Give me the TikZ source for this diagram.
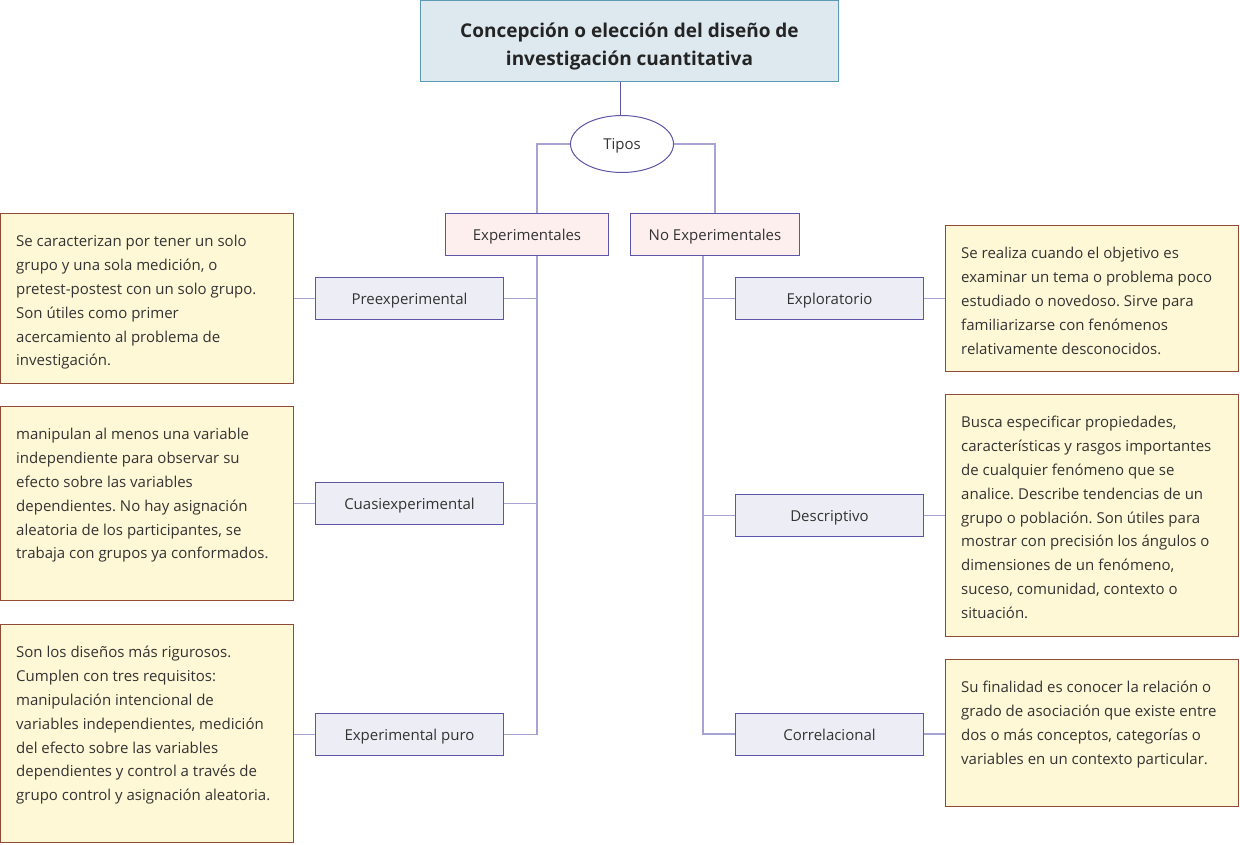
\documentclass[tikz,border=0pt]{standalone}
\usepackage{fontspec}
\setmainfont{Open Sans}
\usetikzlibrary{shapes.geometric}
\frenchspacing

\definecolor{titlefill}{HTML}{DDE8EF}
\definecolor{titleline}{HTML}{5B9BB5}
\definecolor{boxline}{HTML}{5D55A8}
\definecolor{groupfill}{HTML}{FDEFEE}
\definecolor{typefill}{HTML}{EDEDF5}
\definecolor{infofill}{HTML}{FFF8D6}
\definecolor{infoline}{HTML}{904A35}
\definecolor{linkcol}{HTML}{A7A3D3}
\definecolor{ink}{HTML}{333333}

\tikzset{
  titlebox/.style={draw=titleline, fill=titlefill, line width=1pt, minimum width=418pt, minimum height=81pt,
    align=center, text=ink!70!black, font=\fontsize{19}{28}\selectfont\bfseries},
  groupbox/.style={draw=boxline, fill=groupfill, line width=1pt, minimum height=42pt, text=ink,
    text height=14pt, text depth=2pt, font=\fontsize{15}{18}\selectfont},
  typebox/.style={draw=boxline, fill=typefill, line width=1pt, minimum width=188pt, minimum height=42pt,
    text=ink, text height=14pt, text depth=2pt, font=\fontsize{15}{18}\selectfont},
  infobox/.style={draw=infoline, fill=infofill, line width=1pt, minimum width=293pt},
  infotext/.style={anchor=north west, inner sep=0pt, align=left, text=ink, font=\fontsize{15}{23.8}\selectfont},
  link/.style={draw=linkcol, line width=1.5pt},
}

\begin{document}
\begin{tikzpicture}[x=1pt,y=-1pt]
\useasboundingbox (0,0) rectangle (1240,844);

\coordinate (leftspine)  at (537,0);
\coordinate (rightspine) at (703,0);

\node[titlebox] (diseno) at (629.5,41) {\rule{0pt}{25pt}Concepción o elección del diseño de\\investigación cuantitativa};
\node[draw=boxline, line width=1pt, fill=white, ellipse, minimum width=103pt, minimum height=57pt,
  text=ink, text height=12pt, text depth=2pt, font=\fontsize{15}{18}\selectfont] (tipos) at (622,144) {Tipos};

\node[groupbox, minimum width=163pt] (exper) at (527,234.5) {Experimentales};
\node[groupbox, minimum width=169pt] (noexp) at (715,234.5) {No Experimentales};

\node[typebox] (preexp) at (409.5,298.5) {Preexperimental};
\node[typebox] (cuasi)  at (409.5,503.5) {Cuasiexperimental};
\node[typebox] (puro)   at (409.5,734.5) {Experimental puro};

\node[typebox] (explor) at (829.5,298.5) {Exploratorio};
\node[typebox] (descr)  at (829.5,515.5) {Descriptivo};
\node[typebox] (correl) at (829.5,734)   {Correlacional};

% left descriptions
\node[infobox, minimum height=170pt] (preexpinfo) at (147,298.5) {};
\node[infotext] (preexptext) at ([shift={(16pt,-17pt)}]preexpinfo.north west)
  {\strut Se caracterizan por tener un solo\\grupo y una sola medición, o\\pretest-postest con un solo grupo.\\Son útiles como primer\\acercamiento al problema de\\investigación.};

\node[infobox, minimum height=194pt] (cuasiinfo) at (147,503.5) {};
\node[infotext] (cuasitext) at ([shift={(16pt,-17pt)}]cuasiinfo.north west)
  {\strut manipulan al menos una variable\\independiente para observar su\\efecto sobre las variables\\dependientes. No hay asignación\\aleatoria de los participantes, se\\trabaja con grupos ya conformados.};

\node[infobox, minimum height=218pt] (puroinfo) at (147,733.5) {};
\node[infotext] (purotext) at ([shift={(16pt,-17pt)}]puroinfo.north west)
  {\strut Son los diseños más rigurosos.\\Cumplen con tres requisitos:\\manipulación intencional de\\variables independientes, medición\\del efecto sobre las variables\\dependientes y control a través de\\grupo control y asignación aleatoria.};

% right descriptions
\node[infobox, minimum height=146pt] (explorinfo) at (1092,298.5) {};
\node[infotext] (explortext) at ([shift={(16pt,-17pt)}]explorinfo.north west)
  {\strut Se realiza cuando el objetivo es\\examinar un tema o problema poco\\estudiado o novedoso. Sirve para\\familiarizarse con fenómenos\\relativamente desconocidos.};

\node[infobox, minimum height=242pt] (descrinfo) at (1092,515.5) {};
\node[infotext] (descrtext) at ([shift={(16pt,-17pt)}]descrinfo.north west)
  {\strut Busca especificar propiedades,\\características y rasgos importantes\\de cualquier fenómeno que se\\analice. Describe tendencias de un\\grupo o población. Son útiles para\\mostrar con precisión los ángulos o\\dimensiones de un fenómeno,\\suceso, comunidad, contexto o\\situación.};

\node[infobox, minimum height=147pt] (correlinfo) at (1092,733) {};
\node[infotext] (correltext) at ([shift={(16pt,-17pt)}]correlinfo.north west)
  {\strut Su finalidad es conocer la relación o\\grado de asociación que existe entre\\dos o más conceptos, categorías o\\variables en un contexto particular.};

% tree
\draw[draw=boxline, line width=1pt] ([xshift=-2pt]tipos.north) -- ([xshift=-2pt]tipos.north |- diseno.south);
\draw[link] (tipos.west) -| (exper.north -| leftspine);
\draw[link] (tipos.east) -| (noexp.north);

\draw[link] (exper.south -| leftspine) |- (puro.east);
\draw[link] (preexp.east) -- (preexp.east -| leftspine);
\draw[link] (cuasi.east) -- (cuasi.east -| leftspine);

\draw[link] (noexp.south -| rightspine) |- (correl.west);
\draw[link] (explor.west) -- (explor.west -| rightspine);
\draw[link] (descr.west) -- (descr.west -| rightspine);

\draw[link] (preexpinfo.east |- preexp.west) -- (preexp.west);
\draw[link] (cuasiinfo.east |- cuasi.west) -- (cuasi.west);
\draw[link] (puroinfo.east |- puro.west) -- (puro.west);
\draw[link] (explor.east) -- (explor.east -| explorinfo.west);
\draw[link] (descr.east) -- (descr.east -| descrinfo.west);
\draw[link] (correl.east) -- (correl.east -| correlinfo.west);

\end{tikzpicture}
\end{document}
